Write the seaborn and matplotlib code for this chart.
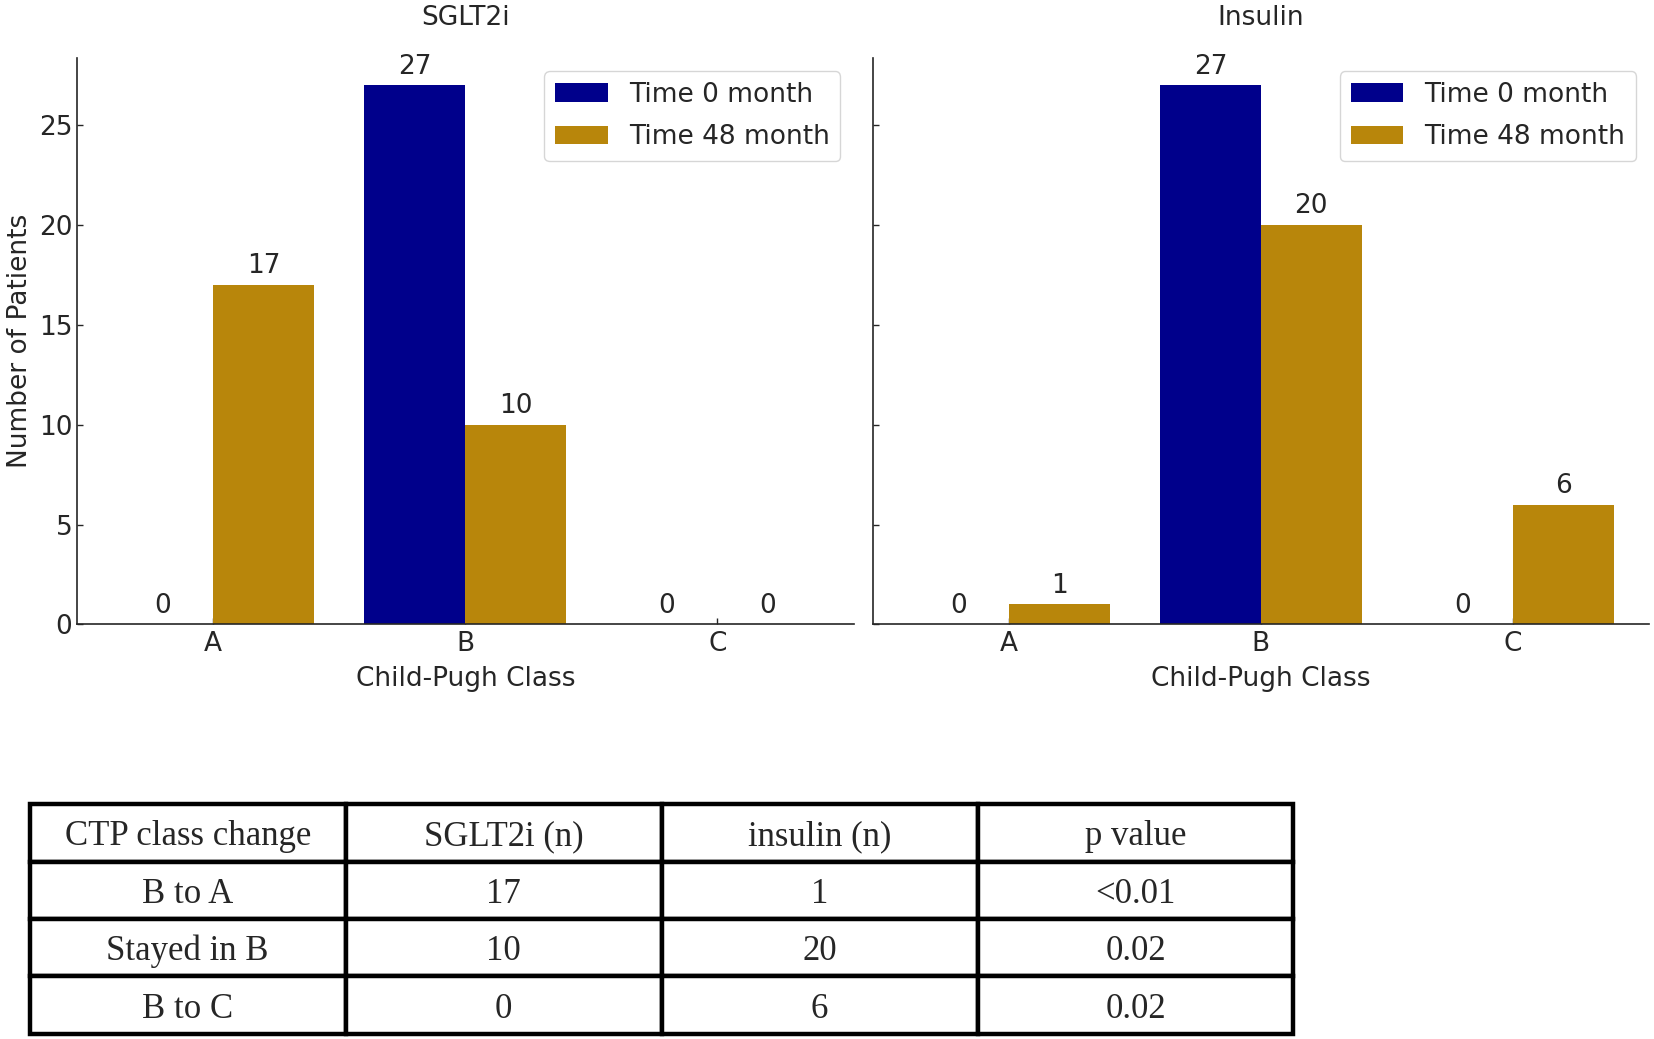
# Child-Pugh Klassen: SGLT2i vs. Insulin, Zeitpunkt 0 und 48 Monate
import pandas as pd
import matplotlib
matplotlib.use("Agg")
import matplotlib.pyplot as plt
import seaborn as sns

# Daten aus der Abbildung
klassen = ["A", "B", "C"]
zeitpunkte = ["Time 0 month", "Time 48 month"]
sglt2_t0 = [0, 27, 0]
sglt2_t48 = [17, 10, 0]
insulin_t0 = [0, 27, 0]
insulin_t48 = [1, 20, 6]

# Tabelle unten
tabelle_kopf = ["CTP class change", "SGLT2i (n)", "insulin (n)", "p value"]
tabelle_zeilen = ["B to A", "Stayed in B", "B to C"]
tabelle_sglt2 = ["17", "10", "0"]
tabelle_insulin = ["1", "20", "6"]
tabelle_p = ["<0.01", "0.02", "0.02"]

farben = ["#00008B", "#B8860B"]
textfarbe = "#262626"
fs = 19


def baue_tabelle(t0, t48):
    return pd.DataFrame({
        "Klasse": klassen * 2,
        "Zeit": [zeitpunkte[0]] * 3 + [zeitpunkte[1]] * 3,
        "Anzahl": t0 + t48,
    })


sns.set_style("ticks")
plt.rcParams["font.family"] = ["DejaVu Sans"]
plt.rcParams["xtick.direction"] = "in"
plt.rcParams["ytick.direction"] = "in"

fig, axes = plt.subplots(1, 2, figsize=(16.54, 10.39), dpi=100, sharey=True)
fig.subplots_adjust(left=0.0466, right=0.997, bottom=0.399, top=0.944, wspace=0.0245)

panels = [("SGLT2i", sglt2_t0, sglt2_t48), ("Insulin", insulin_t0, insulin_t48)]
for ax, (titel, t0, t48) in zip(axes, panels):
    df = baue_tabelle(t0, t48)
    sns.barplot(data=df, x="Klasse", y="Anzahl", hue="Zeit", palette=farben,
                saturation=1, errorbar=None, width=0.8, linewidth=0, ax=ax)
    for container in ax.containers:
        ax.bar_label(container, padding=4, fontsize=fs, color=textfarbe)
    handles, labels = ax.get_legend_handles_labels()
    ax.legend(handles, labels, loc="upper right", fontsize=fs, labelspacing=0.62,
              handletextpad=0.8)
    ax.set_title(titel, fontsize=fs, pad=24, color=textfarbe)
    ax.set_xlabel("Child-Pugh Class", fontsize=fs, color=textfarbe, labelpad=6)
    ax.set_ylabel("")
    ax.set_xlim(-0.54, 2.54)
    ax.set_ylim(0, 28.35)
    ax.tick_params(labelsize=fs, length=4, width=1, colors=textfarbe)
    ax.tick_params(axis="x", pad=5)
    sns.despine(ax=ax)
    for sp in ax.spines.values():
        sp.set_linewidth(1.2)

axes[0].set_ylabel("Number of Patients", fontsize=fs, color=textfarbe)
axes[0].set_yticks([0, 5, 10, 15, 20, 25])

# Tabelle als eigene Achse
ax_tab = fig.add_axes([0.018, 0.005, 0.764, 0.221])
ax_tab.axis("off")
zellen = [[z, s, i, p] for z, s, i, p in zip(tabelle_zeilen, tabelle_sglt2, tabelle_insulin, tabelle_p)]
tab = ax_tab.table(cellText=zellen, colLabels=tabelle_kopf, cellLoc="center",
                   bbox=[0, 0, 1, 1])
tab.auto_set_font_size(False)
for (r, c), zelle in tab.get_celld().items():
    zelle.set_linewidth(3.2)
    zelle.set_edgecolor("black")
    zelle.get_text().set_fontfamily("Liberation Serif")
    zelle.get_text().set_fontsize(25)
    zelle.get_text().set_va("center_baseline")

fig.savefig("out.png", dpi=100)
